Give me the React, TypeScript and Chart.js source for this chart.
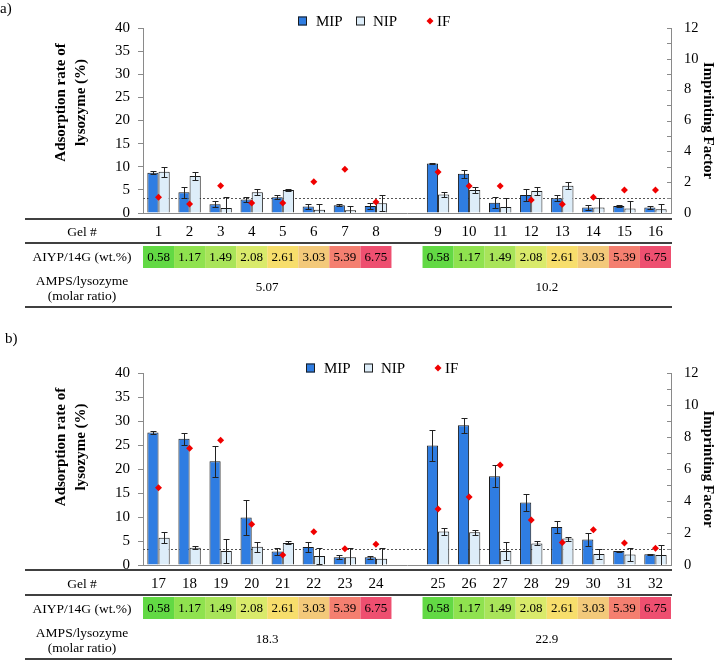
import React, { useEffect, useRef } from 'react';
import { Chart, registerables } from 'chart.js';

Chart.register(...registerables);

const SERIF = '"Liberation Serif", "Times New Roman", Times, serif';
const AXIS = '#8a8a8a';
const EDGE = '#1c1c1c';
const MIP_COLOR = '#2f7de2';
const NIP_COLOR = '#ddedf9';
const RED = '#f00000';

// ---------- Panel a data ----------
const gelsA = ['1', '2', '3', '4', '5', '6', '7', '8', '9', '10', '11', '12', '13', '14', '15', '16'];
const mipA = [8.7, 4.5, 1.9, 2.9, 3.4, 1.4, 1.7, 1.5, 10.7, 8.5, 2.2, 3.9, 3.2, 1.2, 1.5, 1.2];
const mipErrA = [0.3, 1.2, 0.6, 0.5, 0.4, 0.5, 0.2, 0.7, 0.2, 0.9, 1.2, 1.2, 0.7, 0.6, 0.3, 0.4];
const nipA = [8.9, 8.0, 1.1, 4.5, 5.0, 0.7, 0.6, 2.1, 4.0, 5.0, 1.3, 4.75, 5.9, 1.2, 1.0, 0.8];
const nipErrA = [1.1, 0.8, 2.3, 0.6, 0.2, 1.3, 1.0, 1.7, 0.5, 0.7, 1.9, 0.9, 0.8, 2.0, 1.6, 1.1];
const ifA = [1.02, 0.58, 1.77, 0.65, 0.65, 2.03, 2.83, 0.71, 2.66, 1.75, 1.75, 0.84, 0.56, 1.02, 1.49, 1.49];
const molarA = ['5.07', '10.2'];

// ---------- Panel b data ----------
const gelsB = ['17', '18', '19', '20', '21', '22', '23', '24', '25', '26', '27', '28', '29', '30', '31', '32'];
const mipB = [27.6, 26.3, 21.6, 9.9, 2.8, 3.75, 1.6, 1.6, 24.9, 29.1, 18.5, 13.0, 7.9, 5.3, 2.9, 2.25];
const mipErrB = [0.4, 1.2, 3.2, 3.6, 0.8, 1.0, 0.4, 0.3, 3.3, 1.5, 2.3, 1.75, 1.2, 1.3, 0.1, 0.1];
const nipB = [5.7, 3.6, 2.9, 3.8, 4.6, 1.9, 1.6, 1.3, 7.0, 6.8, 2.9, 4.5, 5.5, 2.3, 2.2, 2.1];
const nipErrB = [1.2, 0.3, 2.5, 1.0, 0.3, 1.6, 2.0, 2.2, 0.7, 0.5, 1.8, 0.4, 0.4, 1.0, 1.4, 2.0];
const ifB = [4.83, 7.3, 7.8, 2.54, 0.62, 2.08, 1.02, 1.3, 3.5, 4.25, 6.25, 2.82, 1.41, 2.21, 1.37, 1.05];
const molarB = ['18.3', '22.9'];

// ---------- shared table rows ----------
const aiypValues = ['0.58', '1.17', '1.49', '2.08', '2.61', '3.03', '5.39', '6.75'];
const aiypColors = ['#62d944', '#8fe24f', '#a9e45a', '#d9ea6b', '#f7de6c', '#f3c97a', '#f47f70', '#ee4f70'];
const leftTitle = ['Adsorption rate of', 'lysozyme (%)'];
const rightTitle = 'Imprinting Factor';

function withGap<T>(arr: T[], fill: T): T[] {
  return [...arr.slice(0, 8), fill, ...arr.slice(8)];
}

interface PanelCfg {
  letter: string;
  letterX: number;
  gels: string[];
  mip: number[];
  mipErr: number[];
  nip: number[];
  nipErr: number[];
  imf: number[];
  molar: string[];
  height: number;
  areaTop: number;
  areaBottom: number;
  legendX: number;
  legendY: number;
  titleDy: number;
  lineTop: number;
  cellTop: number;
}

const panelA: PanelCfg = {
  letter: 'a)', letterX: 0, gels: gelsA, mip: mipA, mipErr: mipErrA, nip: nipA, nipErr: nipErrA, imf: ifA, molar: molarA,
  height: 330, areaTop: 28, areaBottom: 213, legendX: 298, legendY: 21, titleDy: -18, lineTop: 6, cellTop: 33,
};
const panelB: PanelCfg = {
  letter: 'b)', letterX: 5, gels: gelsB, mip: mipB, mipErr: mipErrB, nip: nipB, nipErr: nipErrB, imf: ifB, molar: molarB,
  height: 331, areaTop: 43, areaBottom: 235, legendX: 306, legendY: 38, titleDy: -22, lineTop: 5, cellTop: 32,
};

function makePlugin(cfg: PanelCfg) {
  const mipG = withGap<number | null>(cfg.mip, null);
  const nipG = withGap<number | null>(cfg.nip, null);
  const mipE = withGap<number | null>(cfg.mipErr, null);
  const nipE = withGap<number | null>(cfg.nipErr, null);
  return {
    id: 'panelDecor',
    beforeDatasetsDraw(chart: any) {
      const { ctx, chartArea } = chart;
      const y = Math.round(chart.scales.y1.getPixelForValue(1)) + 0.5;
      ctx.save();
      ctx.strokeStyle = '#555';
      ctx.lineWidth = 1;
      ctx.setLineDash([2, 2]);
      ctx.beginPath();
      ctx.moveTo(chartArea.left, y);
      ctx.lineTo(chartArea.right, y);
      ctx.stroke();
      ctx.restore();
    },
    afterDatasetDraw(chart: any, args: any) {
      if (args.index > 1) return;
      const vals = args.index === 0 ? mipG : nipG;
      const errs = args.index === 0 ? mipE : nipE;
      const { ctx, chartArea } = chart;
      const ys = chart.scales.y;
      ctx.save();
      ctx.beginPath();
      ctx.rect(chartArea.left, chartArea.top, chartArea.right - chartArea.left, chartArea.bottom - chartArea.top);
      ctx.clip();
      ctx.strokeStyle = '#222';
      ctx.lineWidth = 1;
      args.meta.data.forEach((el: any, i: number) => {
        const v = vals[i];
        const e = errs[i];
        if (v == null || e == null) return;
        const x = Math.round(el.x) + 0.5;
        const top = Math.round(ys.getPixelForValue(v + e)) + 0.5;
        const bot = Math.round(ys.getPixelForValue(Math.max(0, v - e))) + 0.5;
        ctx.beginPath();
        ctx.moveTo(x, top);
        ctx.lineTo(x, bot);
        ctx.moveTo(x - 3, top);
        ctx.lineTo(x + 3, top);
        ctx.moveTo(x - 3, bot);
        ctx.lineTo(x + 3, bot);
        ctx.stroke();
      });
      ctx.restore();
    },
    afterDraw(chart: any) {
      const { ctx, chartArea } = chart;
      const xs = chart.scales.x;
      const y1 = chart.scales.y1;
      const B = chartArea.bottom;
      const n = chart.data.labels.length;
      const cw = (chartArea.right - chartArea.left) / n;
      ctx.save();

      // right axis small ticks
      ctx.strokeStyle = AXIS;
      ctx.lineWidth = 1;
      for (let v = 0; v <= 12; v++) {
        const yy = Math.round(y1.getPixelForValue(v)) + 0.5;
        ctx.beginPath();
        ctx.moveTo(chartArea.right - 4, yy);
        ctx.lineTo(chartArea.right, yy);
        ctx.stroke();
      }

      // panel letter
      ctx.fillStyle = '#000';
      ctx.textBaseline = 'middle';
      ctx.textAlign = 'left';
      ctx.font = `15px ${SERIF}`;
      ctx.fillText(cfg.letter, cfg.letterX, 9);

      // legend
      const lx = cfg.legendX;
      const ly = cfg.legendY;
      ctx.lineWidth = 1;
      ctx.strokeStyle = EDGE;
      ctx.fillStyle = MIP_COLOR;
      ctx.fillRect(lx, ly - 4.5, 9, 9);
      ctx.strokeRect(lx + 0.5, ly - 4, 8, 8);
      ctx.fillStyle = NIP_COLOR;
      ctx.fillRect(lx + 58, ly - 4.5, 9, 9);
      ctx.strokeRect(lx + 58.5, ly - 4, 8, 8);
      ctx.fillStyle = RED;
      ctx.beginPath();
      ctx.moveTo(lx + 132, ly - 3.5);
      ctx.lineTo(lx + 135.5, ly);
      ctx.lineTo(lx + 132, ly + 3.5);
      ctx.lineTo(lx + 128.5, ly);
      ctx.closePath();
      ctx.fill();
      ctx.fillStyle = '#000';
      ctx.font = `15px ${SERIF}`;
      ctx.fillText('MIP', lx + 18, ly + 1);
      ctx.fillText('NIP', lx + 75, ly + 1);
      ctx.fillText('IF', lx + 139, ly + 1);

      // left axis title (two lines, rotated)
      ctx.font = `bold 15px ${SERIF}`;
      ctx.textAlign = 'center';
      const cy = (chartArea.top + chartArea.bottom) / 2 + cfg.titleDy;
      [[61, leftTitle[0]], [81, leftTitle[1]]].forEach(([tx, t]) => {
        ctx.save();
        ctx.translate(tx as number, cy);
        ctx.rotate(-Math.PI / 2);
        ctx.fillText(t as string, 0, 0);
        ctx.restore();
      });

      // table
      const L = 25;
      const R = chartArea.right + 1;
      const hline = (y: number) => {
        ctx.beginPath();
        ctx.moveTo(L, y);
        ctx.lineTo(R, y);
        ctx.stroke();
      };
      ctx.strokeStyle = '#000';
      ctx.lineWidth = 1.6;
      hline(B + cfg.lineTop);
      hline(B + 30);
      hline(B + 94);

      const labelX = 82;
      ctx.fillStyle = '#000';
      ctx.textAlign = 'center';
      ctx.font = `13.5px ${SERIF}`;
      ctx.fillText('Gel #', labelX, B + 19);
      ctx.fillText('AIYP/14G (wt.%)', labelX, B + 44);
      ctx.fillText('AMPS/lysozyme', labelX, B + 68);
      ctx.fillText('(molar ratio)', labelX, B + 83);

      const labels: string[] = chart.data.labels;
      ctx.font = `15px ${SERIF}`;
      labels.forEach((lab, i) => {
        if (!lab) return;
        ctx.fillText(lab, xs.getPixelForValue(i), B + 19);
      });

      const groups = [0, 9];
      groups.forEach((start, g) => {
        for (let k = 0; k < aiypValues.length; k++) {
          const cx = xs.getPixelForValue(start + k);
          ctx.fillStyle = aiypColors[k];
          ctx.fillRect(cx - cw / 2, B + cfg.cellTop, cw, 22);
          ctx.fillStyle = '#000';
          ctx.font = `13px ${SERIF}`;
          ctx.fillText(aiypValues[k], cx, B + cfg.cellTop + 11.5);
        }
        const gx = (xs.getPixelForValue(start) + xs.getPixelForValue(start + 7)) / 2;
        ctx.font = `13px ${SERIF}`;
        ctx.fillText(cfg.molar[g], gx, B + 75);
      });
      ctx.restore();
    },
  };
}

function Panel({ cfg, top }: { cfg: PanelCfg; top: number }) {
  const ref = useRef<HTMLCanvasElement | null>(null);
  useEffect(() => {
    if (!ref.current) return;
    const labels = withGap(cfg.gels, '');
    const tickFont = { family: SERIF, size: 15 };
    const chart = new Chart(ref.current, {
      type: 'bar',
      data: {
        labels,
        datasets: [
          {
            label: 'MIP',
            data: withGap<number | null>(cfg.mip, null),
            backgroundColor: MIP_COLOR,
            borderColor: EDGE,
            borderWidth: 1,
            yAxisID: 'y',
            categoryPercentage: 0.72,
            barPercentage: 1,
            order: 2,
          } as any,
          {
            label: 'NIP',
            data: withGap<number | null>(cfg.nip, null),
            backgroundColor: NIP_COLOR,
            borderColor: EDGE,
            borderWidth: 1,
            yAxisID: 'y',
            categoryPercentage: 0.72,
            barPercentage: 1,
            order: 2,
          } as any,
          {
            type: 'line',
            label: 'IF',
            data: withGap<number | null>(cfg.imf, null),
            yAxisID: 'y1',
            showLine: false,
            pointStyle: 'rectRot',
            pointRadius: 3.5,
            pointBackgroundColor: RED,
            pointBorderColor: RED,
            pointBorderWidth: 0,
            order: 1,
          } as any,
        ],
      },
      options: {
        responsive: false,
        maintainAspectRatio: false,
        devicePixelRatio: 1,
        animation: false,
        events: [],
        layout: { padding: { top: cfg.areaTop, bottom: cfg.height - cfg.areaBottom, left: 0, right: 0 } },
        plugins: { legend: { display: false }, tooltip: { enabled: false }, title: { display: false } },
        scales: {
          x: {
            type: 'category',
            offset: true,
            grid: { display: false, drawTicks: false },
            border: { display: true, color: AXIS, width: 1 },
            ticks: { display: false },
            afterFit: (s: any) => { s.height = 0; },
          },
          y: {
            position: 'left',
            min: 0,
            max: 40,
            ticks: { stepSize: 5, font: tickFont, color: '#000', padding: 8 },
            grid: { display: true, drawOnChartArea: false, drawTicks: true, tickLength: 5, color: AXIS },
            border: { color: AXIS, width: 1 },
            afterFit: (s: any) => { s.width = 143; },
          },
          y1: {
            position: 'right',
            min: 0,
            max: 12,
            ticks: { stepSize: 2, font: { family: SERIF, size: 14.5 }, color: '#000', padding: 13 },
            grid: { display: false, drawTicks: false, drawOnChartArea: false },
            border: { color: AXIS, width: 1 },
            title: {
              display: true,
              text: rightTitle,
              color: '#000',
              font: { family: SERIF, size: 15, weight: 'bold', lineHeight: 1.2 },
              padding: { top: 4, bottom: 0 },
            },
            afterFit: (s: any) => { s.width = 50; },
          },
        } as any,
      },
      plugins: [makePlugin(cfg)],
    } as any);
    return () => chart.destroy();
  }, [cfg]);
  return (
    <canvas
      ref={ref}
      width={721}
      height={cfg.height}
      style={{ position: 'absolute', left: 0, top, width: 721, height: cfg.height, display: 'block' }}
    />
  );
}

export default function App() {
  return (
    <div style={{ position: 'absolute', left: 0, top: 0, width: 721, height: 661, background: '#fff', overflow: 'hidden' }}>
      <Panel cfg={panelA} top={0} />
      <Panel cfg={panelB} top={330} />
    </div>
  );
}
